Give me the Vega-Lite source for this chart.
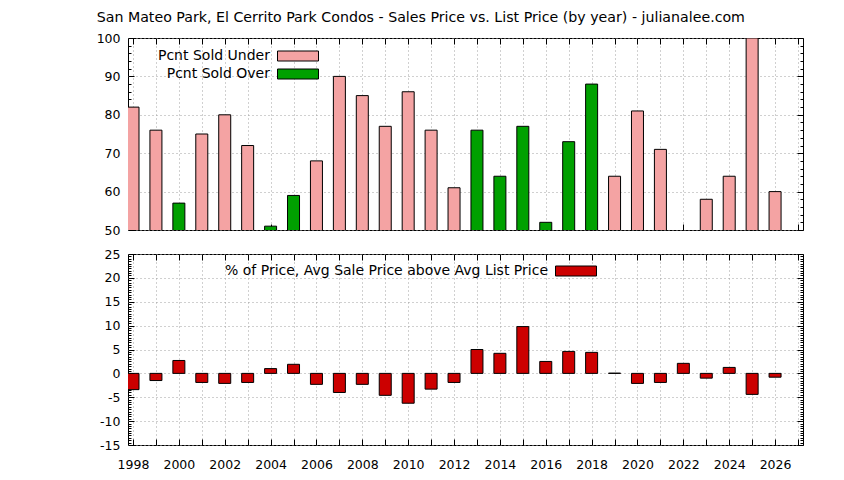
{
  "$schema": "https://vega.github.io/schema/vega-lite/v6.json",
  "padding": {"left": 95, "top": 11, "right": 5, "bottom": 5},
  "title": {"text": "San Mateo Park, El Cerrito Park Condos - Sales Price vs. List Price (by year) - julianalee.com", "font": "DejaVu Sans", "fontSize": 14.2, "fontWeight": "normal", "color": "black", "anchor": "middle", "dx": -29, "offset": 6},
  "datasets": {
    "top": [
      {"year": 1998, "type": "Pcnt Sold Under", "value": 82},
      {"year": 1999, "type": "Pcnt Sold Under", "value": 76},
      {"year": 2000, "type": "Pcnt Sold Over", "value": 57},
      {"year": 2001, "type": "Pcnt Sold Under", "value": 75},
      {"year": 2002, "type": "Pcnt Sold Under", "value": 80},
      {"year": 2003, "type": "Pcnt Sold Under", "value": 72},
      {"year": 2004, "type": "Pcnt Sold Over", "value": 51},
      {"year": 2005, "type": "Pcnt Sold Over", "value": 59},
      {"year": 2006, "type": "Pcnt Sold Under", "value": 68},
      {"year": 2007, "type": "Pcnt Sold Under", "value": 90},
      {"year": 2008, "type": "Pcnt Sold Under", "value": 85},
      {"year": 2009, "type": "Pcnt Sold Under", "value": 77},
      {"year": 2010, "type": "Pcnt Sold Under", "value": 86},
      {"year": 2011, "type": "Pcnt Sold Under", "value": 76},
      {"year": 2012, "type": "Pcnt Sold Under", "value": 61},
      {"year": 2013, "type": "Pcnt Sold Over", "value": 76},
      {"year": 2014, "type": "Pcnt Sold Over", "value": 64},
      {"year": 2015, "type": "Pcnt Sold Over", "value": 77},
      {"year": 2016, "type": "Pcnt Sold Over", "value": 52},
      {"year": 2017, "type": "Pcnt Sold Over", "value": 73},
      {"year": 2018, "type": "Pcnt Sold Over", "value": 88},
      {"year": 2019, "type": "Pcnt Sold Under", "value": 64},
      {"year": 2020, "type": "Pcnt Sold Under", "value": 81},
      {"year": 2021, "type": "Pcnt Sold Under", "value": 71},
      {"year": 2023, "type": "Pcnt Sold Under", "value": 58},
      {"year": 2024, "type": "Pcnt Sold Under", "value": 64},
      {"year": 2025, "type": "Pcnt Sold Under", "value": 100},
      {"year": 2026, "type": "Pcnt Sold Under", "value": 60}
    ],
    "bottom": [
      {"year": 1998, "pct": -3.4, "series": "% of Price, Avg Sale Price above Avg List Price"},
      {"year": 1999, "pct": -1.5, "series": "% of Price, Avg Sale Price above Avg List Price"},
      {"year": 2000, "pct": 2.7, "series": "% of Price, Avg Sale Price above Avg List Price"},
      {"year": 2001, "pct": -1.9, "series": "% of Price, Avg Sale Price above Avg List Price"},
      {"year": 2002, "pct": -2.1, "series": "% of Price, Avg Sale Price above Avg List Price"},
      {"year": 2003, "pct": -1.9, "series": "% of Price, Avg Sale Price above Avg List Price"},
      {"year": 2004, "pct": 1.0, "series": "% of Price, Avg Sale Price above Avg List Price"},
      {"year": 2005, "pct": 1.9, "series": "% of Price, Avg Sale Price above Avg List Price"},
      {"year": 2006, "pct": -2.3, "series": "% of Price, Avg Sale Price above Avg List Price"},
      {"year": 2007, "pct": -4.0, "series": "% of Price, Avg Sale Price above Avg List Price"},
      {"year": 2008, "pct": -2.3, "series": "% of Price, Avg Sale Price above Avg List Price"},
      {"year": 2009, "pct": -4.6, "series": "% of Price, Avg Sale Price above Avg List Price"},
      {"year": 2010, "pct": -6.25, "series": "% of Price, Avg Sale Price above Avg List Price"},
      {"year": 2011, "pct": -3.3, "series": "% of Price, Avg Sale Price above Avg List Price"},
      {"year": 2012, "pct": -1.9, "series": "% of Price, Avg Sale Price above Avg List Price"},
      {"year": 2013, "pct": 5.0, "series": "% of Price, Avg Sale Price above Avg List Price"},
      {"year": 2014, "pct": 4.2, "series": "% of Price, Avg Sale Price above Avg List Price"},
      {"year": 2015, "pct": 9.8, "series": "% of Price, Avg Sale Price above Avg List Price"},
      {"year": 2016, "pct": 2.5, "series": "% of Price, Avg Sale Price above Avg List Price"},
      {"year": 2017, "pct": 4.6, "series": "% of Price, Avg Sale Price above Avg List Price"},
      {"year": 2018, "pct": 4.4, "series": "% of Price, Avg Sale Price above Avg List Price"},
      {"year": 2019, "pct": 0.05, "series": "% of Price, Avg Sale Price above Avg List Price"},
      {"year": 2020, "pct": -2.1, "series": "% of Price, Avg Sale Price above Avg List Price"},
      {"year": 2021, "pct": -1.9, "series": "% of Price, Avg Sale Price above Avg List Price"},
      {"year": 2022, "pct": 2.1, "series": "% of Price, Avg Sale Price above Avg List Price"},
      {"year": 2023, "pct": -1.0, "series": "% of Price, Avg Sale Price above Avg List Price"},
      {"year": 2024, "pct": 1.25, "series": "% of Price, Avg Sale Price above Avg List Price"},
      {"year": 2025, "pct": -4.4, "series": "% of Price, Avg Sale Price above Avg List Price"},
      {"year": 2026, "pct": -0.8, "series": "% of Price, Avg Sale Price above Avg List Price"}
    ]
  },
  "config": {
    "font": "DejaVu Sans",
    "view": {"stroke": "black", "strokeWidth": 1},
    "axis": {"labelFont": "DejaVu Sans", "labelFontSize": 12.5, "labelColor": "black", "tickColor": "black", "tickWidth": 1, "gridColor": "#a0a0a0", "gridDash": [1, 3], "gridWidth": 1, "domain": false, "minExtent": 0, "title": null, "labelFlush": false, "labelOverlap": false},
    "legend": {"labelFont": "DejaVu Sans", "labelFontSize": 14, "labelColor": "black", "labelLimit": 1000, "padding": 0, "symbolStrokeColor": "black", "symbolStrokeWidth": 1, "symbolSize": 100, "symbolOpacity": 1}
  },
  "resolve": {"scale": {"color": "independent"}, "legend": {"color": "independent"}},
  "spacing": 10,
  "vconcat": [
    {
      "width": 675,
      "height": 192,
      "data": {"name": "top"},
      "layer": [
        {
          "mark": {"type": "bar", "clip": true, "width": 12, "stroke": "black", "strokeWidth": 1},
          "encoding": {
            "x": {"field": "year", "type": "quantitative", "scale": {"domain": [1998, 2027], "nice": false, "zero": false},
              "axis": {"orient": "bottom", "values": [1998,1999,2000,2001,2002,2003,2004,2005,2006,2007,2008,2009,2010,2011,2012,2013,2014,2015,2016,2017,2018,2019,2020,2021,2022,2023,2024,2025,2026,2027], "labels": false, "tickSize": -6, "grid": true}},
            "y": {"field": "value", "type": "quantitative", "scale": {"domain": [50, 100], "nice": false, "zero": false},
              "axis": {"orient": "left", "values": [50, 60, 70, 80, 90, 100], "tickSize": -6, "labelPadding": 14, "grid": true}},
            "color": {"field": "type", "type": "nominal", "scale": {"domain": ["Pcnt Sold Under", "Pcnt Sold Over"], "range": ["#f4a3a3", "#00a000"]},
              "legend": {"title": null, "orient": "none", "legendX": 163, "legendY": 11, "direction": "vertical", "symbolType": "M-4.1,-1H4.1V1H-4.1Z", "labelAlign": "right", "labelOffset": -35, "rowPadding": 4}}
          }
        },
        {
          "mark": {"type": "bar", "opacity": 0, "width": 1, "clip": true},
          "encoding": {
            "x": {"field": "year", "type": "quantitative", "axis": {"orient": "top", "values": [1998,1999,2000,2001,2002,2003,2004,2005,2006,2007,2008,2009,2010,2011,2012,2013,2014,2015,2016,2017,2018,2019,2020,2021,2022,2023,2024,2025,2026,2027], "labels": false, "tickSize": -6, "grid": false}},
            "y": {"field": "value", "type": "quantitative", "axis": {"orient": "right", "values": [50, 60, 70, 80, 90, 100], "labels": false, "tickSize": -6, "grid": false}}
          }
        },
        {
          "mark": {"type": "bar", "opacity": 0, "width": 1, "clip": true},
          "encoding": {
            "x": {"field": "year", "type": "quantitative", "axis": null},
            "y": {"field": "value", "type": "quantitative", "axis": {"orient": "left", "values": [52,54,56,58,62,64,66,68,72,74,76,78,82,84,86,88,92,94,96,98], "labels": false, "tickSize": -3, "grid": false}}
          }
        },
        {
          "mark": {"type": "bar", "opacity": 0, "width": 1, "clip": true},
          "encoding": {
            "x": {"field": "year", "type": "quantitative", "axis": null},
            "y": {"field": "value", "type": "quantitative", "axis": {"orient": "right", "values": [52,54,56,58,62,64,66,68,72,74,76,78,82,84,86,88,92,94,96,98], "labels": false, "tickSize": -3, "grid": false}}
          }
        }
      ]
    },
    {
      "width": 675,
      "height": 191,
      "data": {"name": "bottom"},
      "layer": [
        {
          "mark": {"type": "bar", "clip": true, "width": 12, "stroke": "black", "strokeWidth": 1},
          "encoding": {
            "x": {"field": "year", "type": "quantitative", "scale": {"domain": [1998, 2027], "nice": false, "zero": false},
              "axis": {"orient": "bottom", "values": [1998,1999,2000,2001,2002,2003,2004,2005,2006,2007,2008,2009,2010,2011,2012,2013,2014,2015,2016,2017,2018,2019,2020,2021,2022,2023,2024,2025,2026,2027], "format": "d", "labelExpr": "datum.value % 2 === 0 ? datum.label : ''", "tickSize": -6, "labelPadding": 19, "grid": true}},
            "y": {"field": "pct", "type": "quantitative", "scale": {"domain": [-15, 25], "nice": false},
              "axis": {"orient": "left", "values": [-15, -10, -5, 0, 5, 10, 15, 20, 25], "labelExpr": "replace(datum.label, '\u2212', '-')", "tickSize": -6, "labelPadding": 14, "grid": true}},
            "color": {"field": "series", "type": "nominal", "scale": {"range": ["#cc0000"]},
              "legend": {"title": null, "orient": "none", "legendX": 441, "legendY": 10, "direction": "vertical", "symbolType": "M-4.1,-1H4.1V1H-4.1Z", "labelAlign": "right", "labelOffset": -35}}
          }
        },
        {
          "mark": {"type": "bar", "opacity": 0, "width": 1, "clip": true},
          "encoding": {
            "x": {"field": "year", "type": "quantitative", "axis": {"orient": "top", "values": [1998,1999,2000,2001,2002,2003,2004,2005,2006,2007,2008,2009,2010,2011,2012,2013,2014,2015,2016,2017,2018,2019,2020,2021,2022,2023,2024,2025,2026,2027], "labels": false, "tickSize": -6, "grid": false}},
            "y": {"field": "pct", "type": "quantitative", "axis": {"orient": "right", "values": [-15, -10, -5, 0, 5, 10, 15, 20, 25], "labels": false, "tickSize": -6, "grid": false}}
          }
        },
        {
          "mark": {"type": "bar", "opacity": 0, "width": 1, "clip": true},
          "encoding": {
            "x": {"field": "year", "type": "quantitative", "axis": null},
            "y": {"field": "pct", "type": "quantitative", "axis": {"orient": "left", "values": [-14.5,-14,-13.5,-13,-12.5,-12,-11.5,-11,-10.5,-9.5,-9,-8.5,-8,-7.5,-7,-6.5,-6,-5.5,-4.5,-4,-3.5,-3,-2.5,-2,-1.5,-1,-0.5,0.5,1,1.5,2,2.5,3,3.5,4,4.5,5.5,6,6.5,7,7.5,8,8.5,9,9.5,10.5,11,11.5,12,12.5,13,13.5,14,14.5,15.5,16,16.5,17,17.5,18,18.5,19,19.5,20.5,21,21.5,22,22.5,23,23.5,24,24.5], "labels": false, "tickSize": -3, "grid": false}}
          }
        },
        {
          "mark": {"type": "bar", "opacity": 0, "width": 1, "clip": true},
          "encoding": {
            "x": {"field": "year", "type": "quantitative", "axis": null},
            "y": {"field": "pct", "type": "quantitative", "axis": {"orient": "right", "values": [-14.5,-14,-13.5,-13,-12.5,-12,-11.5,-11,-10.5,-9.5,-9,-8.5,-8,-7.5,-7,-6.5,-6,-5.5,-4.5,-4,-3.5,-3,-2.5,-2,-1.5,-1,-0.5,0.5,1,1.5,2,2.5,3,3.5,4,4.5,5.5,6,6.5,7,7.5,8,8.5,9,9.5,10.5,11,11.5,12,12.5,13,13.5,14,14.5,15.5,16,16.5,17,17.5,18,18.5,19,19.5,20.5,21,21.5,22,22.5,23,23.5,24,24.5], "labels": false, "tickSize": -3, "grid": false}}
          }
        }
      ]
    }
  ]
}
